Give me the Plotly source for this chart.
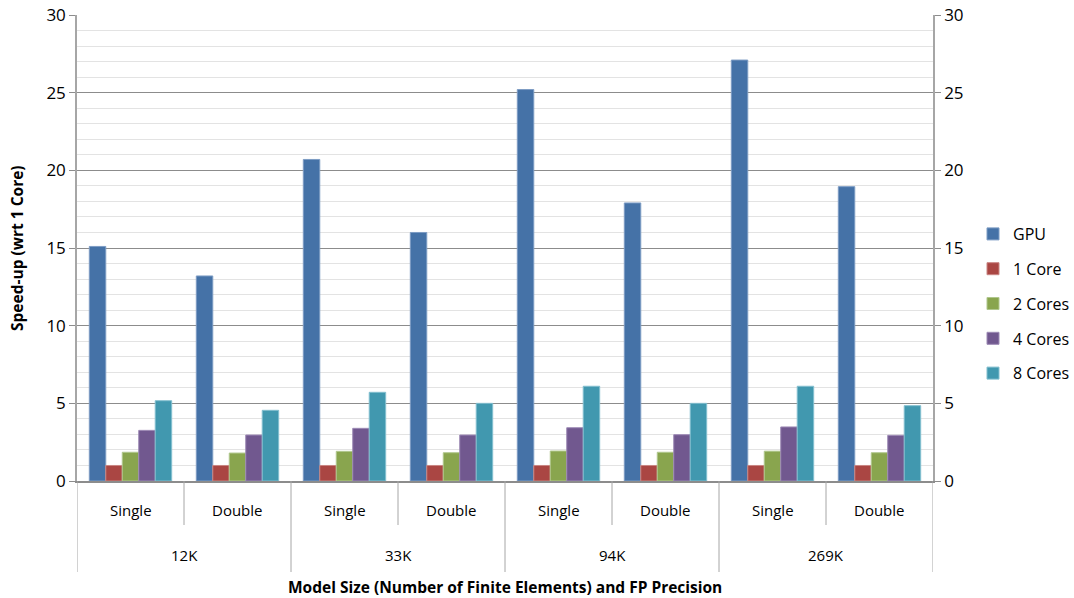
import plotly.graph_objects as go

# Model sizes (outer category) and floating-point precision (inner category)
sizes = ["12K", "33K", "94K", "269K"]
precisions = ["Single", "Double"]

series_names = ["GPU", "1 Core", "2 Cores", "4 Cores", "8 Cores"]

# Speed-up relative to 1 core, ordered 12K S, 12K D, 33K S, 33K D, 94K S, 94K D, 269K S, 269K D
gpu = [15.1, 13.2, 20.7, 16.0, 25.2, 17.9, 27.1, 18.95]
core1 = [1.0, 1.0, 1.0, 1.0, 1.0, 1.0, 1.0, 1.0]
core2 = [1.85, 1.8, 1.91, 1.82, 1.93, 1.85, 1.92, 1.82]
core4 = [3.26, 2.96, 3.39, 2.96, 3.43, 2.98, 3.48, 2.94]
core8 = [5.17, 4.55, 5.71, 5.0, 6.1, 5.0, 6.1, 4.85]

colors = ["#4572A7", "#AA4643", "#89A54E", "#71588F", "#4198AF"]
edge_colors = ["#7D9CC4", "#C98683", "#B0C78D", "#9D8AB5", "#83BFCF"]

FONT = "Open Sans"
W, H = 1074, 598
M_L, M_R, M_T, M_B = 77, 141, 15, 117
plot_w = W - M_L - M_R
plot_h = H - M_T - M_B


def py(pixel_below_axis):
    """Paper y coordinate for a distance (px) below the x axis line."""
    return -pixel_below_axis / plot_h


def px(pixel_x):
    """Paper x coordinate for an absolute page x position."""
    return (pixel_x - M_L) / plot_w


n_cat = len(sizes) * len(precisions)
x_pos = list(range(n_cat))

fig = go.Figure()
for name, vals, col, edge in zip(series_names, [gpu, core1, core2, core4, core8], colors, edge_colors):
    fig.add_trace(go.Bar(
        x=x_pos, y=vals, name=name, legendgroup=name,
        marker=dict(color=col, line=dict(color=edge, width=1)),
    ))

# invisible trace so the secondary (right) axis is drawn
fig.add_trace(go.Scatter(x=[x_pos[0]], y=[0], yaxis="y2", mode="markers",
                         marker=dict(opacity=0), showlegend=False, hoverinfo="skip"))

shapes = []
annotations = []
label_font = dict(family=FONT, size=15, color="#000000")
title_font = dict(family=FONT, size=15.5, color="#000000")

# inner (precision) labels and dividers
for i in range(n_cat):
    annotations.append(dict(x=i, y=py(29), xref="x", yref="paper", text=precisions[i % 2],
                            xanchor="center", yanchor="middle",
                            showarrow=False, font=label_font))
    if i % 2 == 1:
        shapes.append(dict(type="line", xref="x", yref="paper", x0=i - 0.5, x1=i - 0.5,
                           y0=0, y1=py(44), line=dict(color="#A6A6A6", width=1)))

# outer (model size) labels and dividers
for j, s in enumerate(sizes):
    annotations.append(dict(x=2 * j + 0.5, y=py(74), xref="x", yref="paper", text=s,
                            xanchor="center", yanchor="middle",
                            showarrow=False, font=label_font))
for j in range(len(sizes) + 1):
    shapes.append(dict(type="line", xref="x", yref="paper", x0=2 * j - 0.5, x1=2 * j - 0.5,
                       y0=0, y1=py(91), line=dict(color="#A6A6A6", width=1)))

annotations.append(dict(x=0.5, y=py(106), xref="paper", yref="paper",
                        xanchor="center", yanchor="middle",
                        text="<b>Model Size (Number of Finite Elements) and FP Precision</b>",
                        showarrow=False, font=title_font))

annotations.append(dict(x=px(17), y=0.5, xref="paper", yref="paper", textangle=-90,
                        xanchor="center", yanchor="middle",
                        text="<b>Speed-up (wrt 1 Core)</b>",
                        showarrow=False, font=title_font))

yaxis_common = dict(
    range=[0, 30], dtick=5, tick0=0,
    ticks="outside", ticklen=6, tickcolor="#8C8C8C",
    showline=True, linecolor="#A6A6A6", linewidth=1.5,
    tickfont=dict(family=FONT, size=17, color="#000000"),
    zeroline=False, fixedrange=True, automargin=False,
)

fig.update_layout(
    width=W, height=H,
    margin=dict(l=M_L, r=M_R, t=M_T, b=M_B, autoexpand=False),
    paper_bgcolor="#FFFFFF", plot_bgcolor="#FFFFFF",
    barmode="group", bargap=0.23, bargroupgap=0.0,
    font=dict(family=FONT, size=15, color="#000000"),
    xaxis=dict(range=[-0.5, n_cat - 0.5], showticklabels=False, ticks="",
               showgrid=False, zeroline=False, showline=True, automargin=False,
               linecolor="#8C8C8C", linewidth=1.5, fixedrange=True),
    yaxis=dict(**yaxis_common,
               showgrid=True, gridcolor="#8C8C8C", gridwidth=1,
               minor=dict(dtick=1, showgrid=True, gridcolor="#E3E3E3", gridwidth=1)),
    yaxis2=dict(**yaxis_common, overlaying="y", side="right", showgrid=False),
    legend=dict(x=973 / W, y=1 - 303.5 / H, xref="container", yref="container",
                xanchor="left", yanchor="middle",
                traceorder="grouped", tracegroupgap=11,
                font=dict(family=FONT, size=16, color="#000000"),
                itemwidth=30, bgcolor="rgba(0,0,0,0)"),
    shapes=shapes,
    annotations=annotations,
    showlegend=True,
)

fig.write_html("out.html")
